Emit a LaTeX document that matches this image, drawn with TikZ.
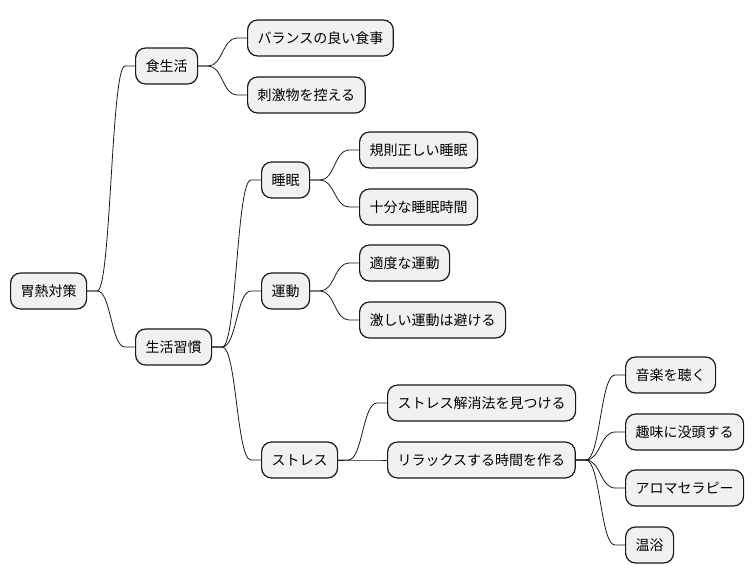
\documentclass[tikz,border=0pt]{standalone}
\usepackage{fontspec}
\setmainfont{Noto Sans CJK JP}
\usetikzlibrary{calc}
\definecolor{boxfill}{HTML}{F1F1F1}
\definecolor{boxline}{HTML}{181818}
\tikzset{
  topic/.style={draw=boxline, line width=1.2pt, fill=boxfill, rounded corners=10pt,
    inner xsep=10pt, inner ysep=0pt, minimum height=36pt, anchor=west,
    font=\fontsize{14pt}{17pt}\selectfont, text=black},
  link/.style={draw=boxline, line width=0.8pt}
}
\newcommand{\mmlink}[2]{%
  \draw[link] let \p1=(#1.east), \p2=(#2.west) in
    (\p1) -- (\x1+10pt,\y1) .. controls (\x1/2+\x2/2,\y1) and (\x1/2+\x2/2,\y2) ..
    (\x2-10pt,\y2) -- (\p2);}
\begin{document}
\begin{tikzpicture}[x=1pt,y=-1pt]
\useasboundingbox (0,0) rectangle (754,583);
\node[topic] (root) at (10,291) {胃熱対策};
\node[topic] (shoku) at (135,66) {食生活};
\node[topic] (seikatsu) at (135,347) {生活習慣};
\node[topic] (balance) at (247,38) {バランスの良い食事};
\node[topic] (shigeki) at (247,95) {刺激物を控える};
\node[topic] (suimin) at (261,180) {睡眠};
\node[topic] (undou) at (261,291) {運動};
\node[topic] (stress) at (261,460) {ストレス};
\node[topic] (kisoku) at (359,150) {規則正しい睡眠};
\node[topic] (juubun) at (359,207) {十分な睡眠時間};
\node[topic] (tekido) at (359,263) {適度な運動};
\node[topic] (hageshii) at (359,320) {激しい運動は避ける};
\node[topic] (kaishou) at (387,403) {ストレス解消法を見つける};
\node[topic] (relax) at (387,460) {リラックスする時間を作る};
\node[topic] (ongaku) at (625,375) {音楽を聴く};
\node[topic] (shumi) at (625,432) {趣味に没頭する};
\node[topic] (aroma) at (625,488) {アロマセラピー};
\node[topic] (onyoku) at (625,545) {温浴};
\mmlink{root}{shoku}
\mmlink{root}{seikatsu}
\mmlink{shoku}{balance}
\mmlink{shoku}{shigeki}
\mmlink{seikatsu}{suimin}
\mmlink{seikatsu}{undou}
\mmlink{seikatsu}{stress}
\mmlink{suimin}{kisoku}
\mmlink{suimin}{juubun}
\mmlink{undou}{tekido}
\mmlink{undou}{hageshii}
\mmlink{stress}{kaishou}
\mmlink{stress}{relax}
\mmlink{relax}{ongaku}
\mmlink{relax}{shumi}
\mmlink{relax}{aroma}
\mmlink{relax}{onyoku}
\end{tikzpicture}
\end{document}
